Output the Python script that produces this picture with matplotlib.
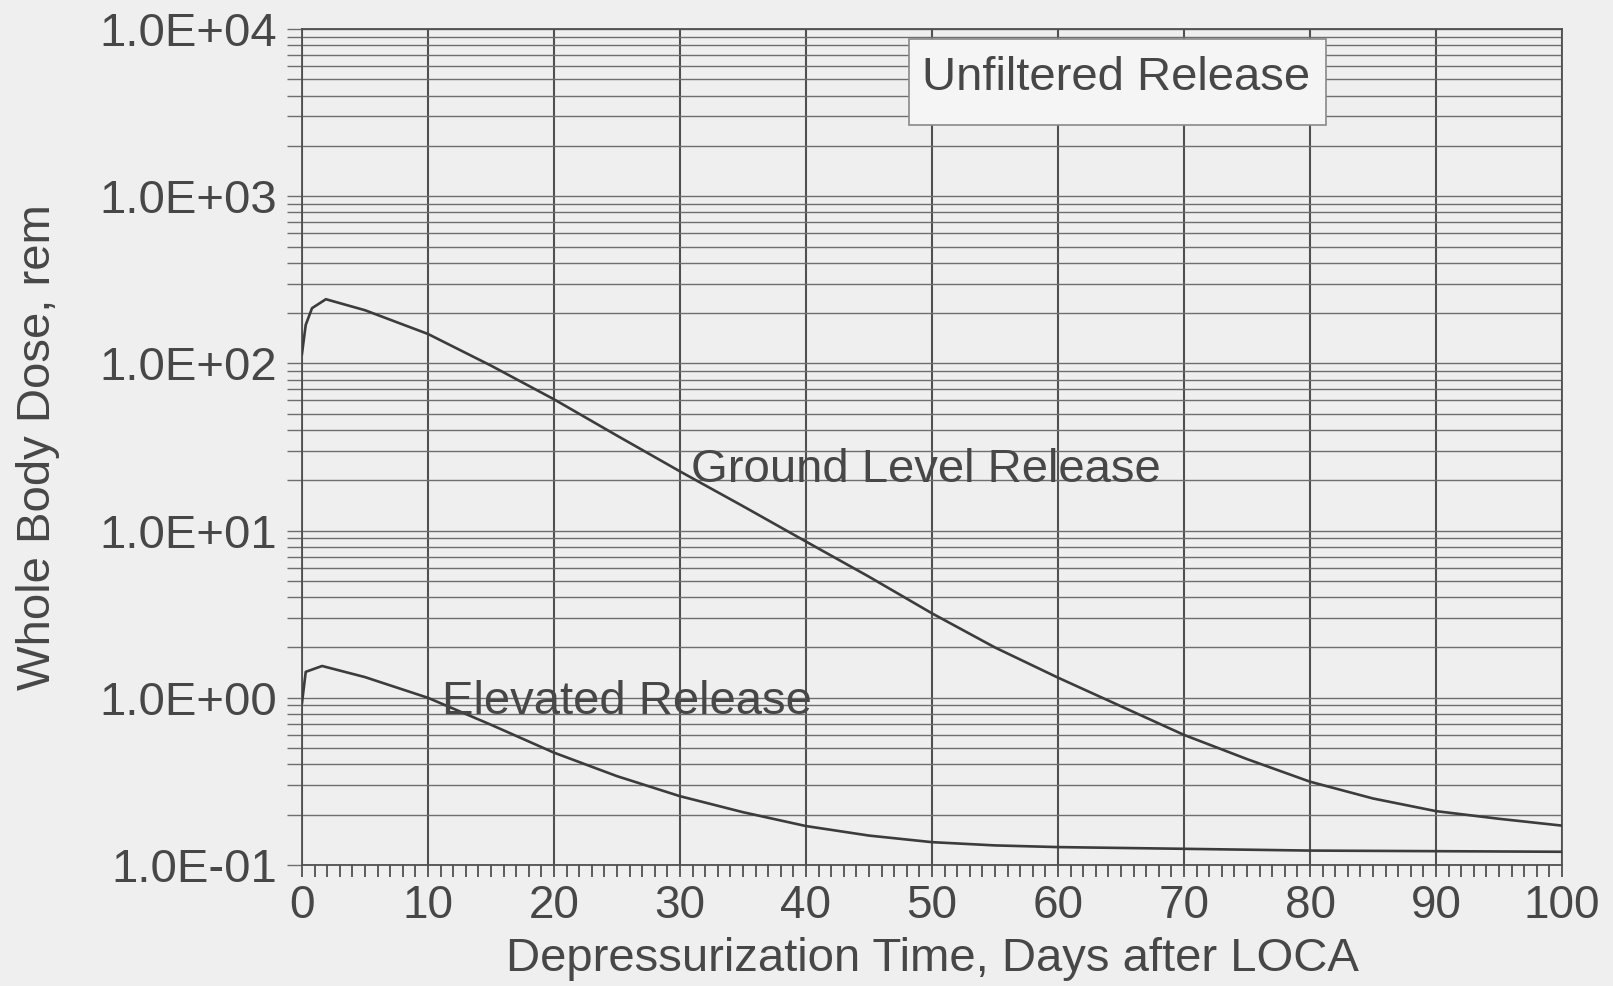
import matplotlib.pyplot as plt
import numpy as np
from matplotlib.patches import Rectangle
from matplotlib.ticker import FixedLocator, LogLocator, NullFormatter

plt.rcParams['font.family'] = ['Liberation Sans', 'DejaVu Sans']

# values
ground_days = [0, 0.3, 0.8, 1.9, 5, 10, 15, 20, 25, 30, 35, 40, 45, 50,
               55, 60, 65, 70, 75, 80, 85, 90, 95, 100]
ground_dose = [114, 170, 214, 242, 208, 150, 97, 61, 37, 22.6, 14, 8.6, 5.3, 3.2,
               2.0, 1.32, 0.89, 0.6, 0.43, 0.315, 0.25, 0.21, 0.189, 0.172]

elevated_days = [0, 0.3, 1.6, 5, 10, 15, 20, 25, 30, 35, 40, 45, 50,
                 55, 60, 70, 80, 90, 100]
elevated_dose = [0.93, 1.43, 1.55, 1.33, 1.0, 0.69, 0.47, 0.34, 0.258, 0.207, 0.171, 0.15, 0.137,
                 0.131, 0.128, 0.125, 0.122, 0.121, 0.12]

y_ticks = [1e-1, 1e0, 1e1, 1e2, 1e3, 1e4]
y_tick_labels = ['1.0E-01', '1.0E+00', '1.0E+01', '1.0E+02', '1.0E+03', '1.0E+04']
x_ticks = list(range(0, 101, 10))

ink = '#474747'
paper = '#efefef'

fig = plt.figure(figsize=(16.13, 9.86), dpi=100, facecolor=paper)
ax = fig.add_axes([0.1872, 0.1227, 0.7812, 0.8479])
ax.set_facecolor(paper)

ax.plot(ground_days, ground_dose, color='#3c3c3c', lw=1.9, zorder=3)
ax.plot(elevated_days, elevated_dose, color='#3c3c3c', lw=1.9, zorder=3)

ax.set_yscale('log')
ax.set_xlim(0, 100)
ax.set_ylim(1e-1, 1e4)

ax.set_yticks(y_ticks)
ax.set_yticklabels(y_tick_labels)
ax.yaxis.set_minor_locator(LogLocator(base=10, subs=np.arange(2, 10)))
ax.yaxis.set_minor_formatter(NullFormatter())
ax.set_xticks(x_ticks)
ax.xaxis.set_minor_locator(FixedLocator(np.arange(0, 101, 1)))

ax.grid(True, axis='y', which='both', color='#6e6e6e', lw=1.0)
ax.grid(True, axis='x', which='major', color='#505050', lw=1.5)

ax.tick_params(axis='y', which='both', direction='out', length=11, width=1.0,
               color='#6e6e6e', labelsize=34, labelcolor=ink, pad=7)
ax.tick_params(axis='x', which='both', direction='out', length=8.5, width=1.3,
               color='#505050', labelsize=33, labelcolor=ink, pad=5)

for side in ['left', 'bottom', 'right', 'top']:
    ax.spines[side].set_color('#505050')
    ax.spines[side].set_linewidth(1.3)

ax.set_xlabel('Depressurization Time, Days after LOCA', fontsize=34, color=ink, labelpad=7)
ax.set_ylabel('Whole Body Dose, rem', fontsize=34, color=ink, labelpad=28)

# label box in the upper right
ax.add_patch(Rectangle((48.2, 2667), 33.1, 8710 - 2667, fc='#f5f5f5', ec='#8a8a8a',
                       lw=1.2, zorder=4))
ax.text(64.6, 5100, 'Unfiltered Release', fontsize=34, color=ink, ha='center', va='center',
        zorder=5)
ax.text(30.9, 23, 'Ground Level Release', fontsize=34, color=ink, ha='left', va='center', zorder=4)
ax.text(11.1, 0.95, 'Elevated Release', fontsize=34, color=ink, ha='left', va='center', zorder=4)

fig.savefig('out.png', dpi=100, facecolor=paper)
